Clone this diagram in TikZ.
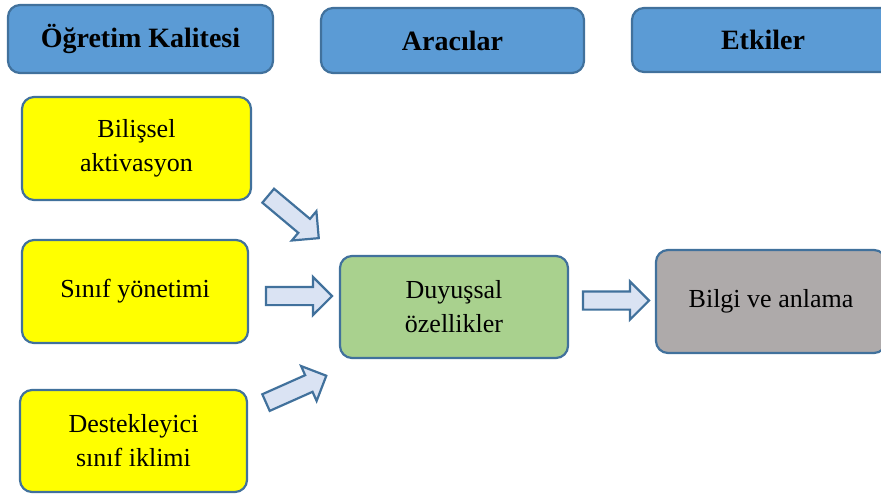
\documentclass[tikz,border=0pt]{standalone}
\usepackage{fontspec}
\setmainfont{Liberation Serif}
\usetikzlibrary{shapes.arrows}
\definecolor{hdrfill}{HTML}{5B9BD5}
\definecolor{edgeblue}{HTML}{41719C}
\definecolor{yelfill}{HTML}{FFFF00}
\definecolor{grnfill}{HTML}{A9D18E}
\definecolor{gryfill}{HTML}{AEAAAA}
\definecolor{arrfill}{HTML}{DAE3F3}
\tikzset{
  basebox/.style={draw=edgeblue, line width=2.2pt, rounded corners=12pt, align=center,
    font=\fontsize{26}{34}\selectfont, inner sep=0pt},
  hdr/.style={basebox, fill=hdrfill, font=\fontsize{28}{30}\selectfont\bfseries},
  yel/.style={basebox, fill=yelfill},
  grn/.style={basebox, fill=grnfill},
  gry/.style={basebox, fill=gryfill},
  blockarrow/.style={single arrow, draw=edgeblue, fill=arrfill, line width=2.2pt,
    inner xsep=0pt, inner ysep=8pt, text height=0pt, text depth=0pt,
    single arrow head extend=10pt, minimum height=66pt}
}
\begin{document}
\begin{tikzpicture}[x=1pt,y=-1pt]
\useasboundingbox (0,0) rectangle (881,495);
\node[hdr, minimum width=265pt, minimum height=68pt] (h1) at (140.5,39) {Öğretim Kalitesi};
\node[hdr, minimum width=263pt, minimum height=65pt] (h2) at (452.5,40.5) {Aracılar};
\node[hdr, minimum width=262pt, minimum height=64pt] (h3) at (763,40) {Etkiler};
\node[yel, minimum width=229pt, minimum height=103pt] (y1) at (136.5,148.5) {Bilişsel\\aktivasyon};
\node[yel, minimum width=226pt, minimum height=103pt] (y2) at (135,291.5) {Sınıf yönetimi};
\node[yel, minimum width=227pt, minimum height=102pt] (y3) at (133.5,441) {Destekleyici\\sınıf iklimi};
\node[grn, minimum width=228pt, minimum height=102pt] (g) at (454,307) {Duyuşsal\\özellikler};
\node[gry, minimum width=230pt, minimum height=103pt] (b) at (771,301.5) {Bilgi ve anlama};
\node[blockarrow, rotate=-40] (a1) at (290,214) {};
\node[blockarrow] (a2) at (294.5,296) {};
\node[blockarrow, rotate=24] (a3) at (292,391) {};
\node[blockarrow] (a4) at (611.5,300.5) {};
\end{tikzpicture}
\end{document}
